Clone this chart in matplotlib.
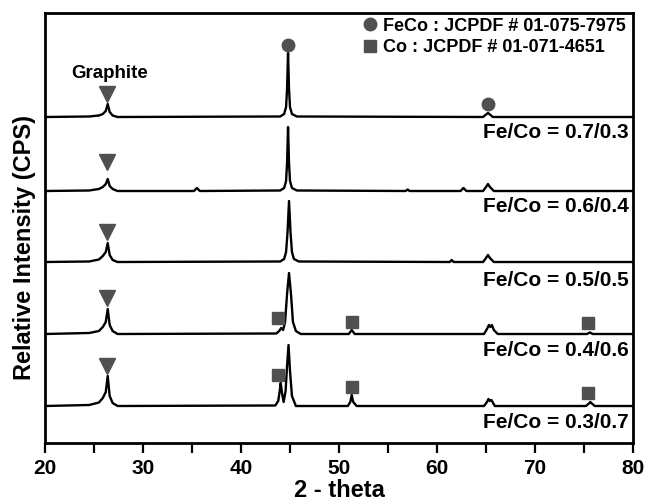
import matplotlib
matplotlib.use('Agg')
import matplotlib.pyplot as plt
from matplotlib.ticker import MultipleLocator

plt.rcParams['font.family'] = ['Liberation Sans', 'DejaVu Sans']
plt.rcParams['font.weight'] = 'bold'

x1 = [20, 24.5, 25.5, 25.9, 26.2, 26.4, 26.6, 26.9, 27.4, 44.0, 44.4, 44.6, 44.7, 44.8, 44.9, 45.0, 45.2, 45.7,
      64.7, 65.0, 65.2, 65.4, 65.7, 80]
h1 = [0, 0.5, 1.5, 3, 6, 13, 5, 1.5, 0, 0.5, 3, 10, 28, 64, 28, 10, 3, 0.5,
      0, 2.5, 4, 2.5, 0, 0]

x2 = [20, 24.5, 25.5, 25.9, 26.2, 26.4, 26.6, 26.9, 27.4, 35.2, 35.5, 35.8, 44.0, 44.4, 44.6, 44.7, 44.8, 44.9,
      45.0, 45.2, 45.7, 56.8, 57.0, 57.2, 62.4, 62.7, 63.0, 64.7, 65.0, 65.2, 65.4, 65.8, 80]
h2 = [0, 0.5, 2, 4, 7, 12, 5, 2, 0, 0, 3, 0, 0.5, 3, 10, 28, 64, 28,
      10, 3, 0.5, 0, 1.5, 0, 0, 3, 0, 0, 4, 7, 4, 0, 0]

x3 = [20, 24.5, 25.5, 25.9, 26.2, 26.4, 26.6, 26.9, 27.4, 44.0, 44.4, 44.6, 44.75, 44.9, 45.05, 45.2, 45.4, 45.9,
      61.3, 61.5, 61.7, 64.7, 65.0, 65.2, 65.4, 65.8, 80]
h3 = [0, 0.5, 2.5, 6, 10, 19, 7, 2, 0, 0.5, 3, 10, 30, 61, 30, 10, 3, 0.5,
      0, 2, 0, 0, 4, 7, 4, 0, 0]

x4 = [20, 24.5, 25.5, 25.9, 26.2, 26.4, 26.6, 26.9, 27.4, 43.6, 43.9, 44.1, 44.3, 44.5, 44.7, 44.9, 45.1, 45.3,
      45.6, 46.1, 51.0, 51.3, 51.6, 64.8, 65.1, 65.3, 65.45, 65.6, 65.8, 66.2, 75.3, 75.6, 75.9, 80]
h4 = [0, 1, 3, 7, 12, 25, 9, 3, 0, 0.5, 3, 6, 4, 12, 40, 61, 40, 12,
      3, 0, 0, 4, 0, 0, 5, 9, 7, 9, 4, 0, 0, 1.5, 0, 0]

x5 = [20, 24.5, 25.5, 25.9, 26.2, 26.4, 26.6, 26.9, 27.4, 43.5, 43.8, 43.95, 44.05, 44.2, 44.35, 44.55, 44.7, 44.85,
      45.0, 45.2, 45.6, 50.9, 51.15, 51.3, 51.45, 51.8, 64.8, 65.1, 65.25, 65.4, 65.55, 65.9,
      75.2, 75.5, 75.65, 75.8, 76.1, 80]
h5 = [0, 1, 3.5, 8, 14, 30, 10, 3, 0, 0.5, 5, 15, 23, 12, 4, 15, 40, 61,
      35, 10, 0, 0, 4, 11, 4, 0, 0, 4, 7, 5, 6, 0,
      0, 2.5, 4, 2.5, 0, 0]

traces_x = [x1, x2, x3, x4, x5]
traces_h = [h1, h2, h3, h4, h5]
offsets = [326, 252, 181, 109, 37]
labels = ['Fe/Co = 0.7/0.3', 'Fe/Co = 0.6/0.4', 'Fe/Co = 0.5/0.5', 'Fe/Co = 0.4/0.6', 'Fe/Co = 0.3/0.7']
label_y = [311, 238, 164, 94, 21]

# phase markers
graphite_x = [26.35, 26.35, 26.35, 26.35, 26.35]
graphite_y = [349, 281, 211, 145, 77]
feco_x = [44.8, 65.2]
feco_y = [398, 339]
co_x = [43.8, 51.3, 75.4, 43.8, 51.3, 75.4]
co_y = [125, 121, 120, 68, 56, 50]

mk = '#505050'

fig = plt.figure(figsize=(6.45, 5.02), dpi=100)
ax = fig.add_axes([45/645, 58/502, 588/645, 430/502])

for xs, hs, off in zip(traces_x, traces_h, offsets):
    ax.plot(xs, [h + off for h in hs], color='black', lw=1.7)

for lab, ly in zip(labels, label_y):
    ax.text(79.6, ly, lab, ha='right', va='center', fontsize=15, fontweight='bold')

ax.plot(graphite_x, graphite_y, 'v', color=mk, ms=11, ls='none')
ax.plot(feco_x, feco_y, 'o', color=mk, ms=9, ls='none')
ax.plot(co_x, co_y, 's', color=mk, ms=9, ls='none')
ax.text(26.6, 371, 'Graphite', ha='center', va='center', fontsize=13.5, fontweight='bold')

# legend drawn by hand
ax.plot([0.553], [0.974], 'o', color=mk, ms=9, transform=ax.transAxes, clip_on=False)
ax.plot([0.553], [0.923], 's', color=mk, ms=9, transform=ax.transAxes, clip_on=False)
ax.text(0.574, 0.972, 'FeCo : JCPDF # 01-075-7975', transform=ax.transAxes, va='center', fontsize=13, fontweight='bold')
ax.text(0.574, 0.921, 'Co : JCPDF # 01-071-4651', transform=ax.transAxes, va='center', fontsize=13, fontweight='bold')

ax.set_xlim(20, 80)
ax.set_ylim(0, 430)
ax.xaxis.set_major_locator(MultipleLocator(10))
ax.xaxis.set_minor_locator(MultipleLocator(5))
ax.set_yticks([])
ax.tick_params(axis='x', which='both', direction='out', length=7, width=1.6, pad=4, labelsize=15)
for lab in ax.get_xticklabels():
    lab.set_fontweight('bold')
for s in ax.spines.values():
    s.set_linewidth(2)

ax.set_xlabel('2 - theta', fontsize=17, fontweight='bold')
ax.xaxis.set_label_coords(0.5, -0.082)
ax.set_ylabel('Relative Intensity (CPS)', fontsize=17, fontweight='bold')
ax.yaxis.set_label_coords(-0.016, 0.458)

fig.savefig('out.png', dpi=100)
